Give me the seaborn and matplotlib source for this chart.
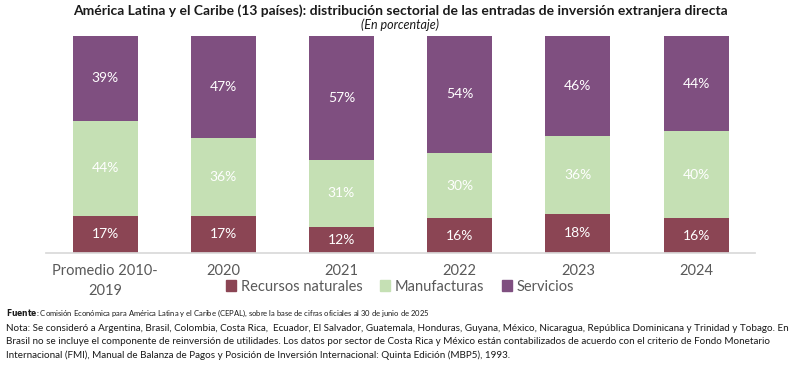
import seaborn as sns
import pandas as pd
import matplotlib.pyplot as plt
from matplotlib.patches import Patch

# Data
categories = ["Promedio 2010-\n2019", "2020", "2021", "2022", "2023", "2024"]
recursos = [17, 17, 12, 16, 18, 16]
manufacturas = [44, 36, 31, 30, 36, 40]
servicios = [39, 47, 57, 54, 46, 44]

colors = {"Recursos naturales": "#8B4554",
          "Manufacturas": "#C5E0B4",
          "Servicios": "#7F4F80"}

sns.set_theme(style="white")
plt.rcParams['font.family'] = ['Lato', 'DejaVu Sans']

df = pd.DataFrame({"cat": categories, "Recursos naturales": recursos,
                   "Manufacturas": manufacturas, "Servicios": servicios})

fig = plt.figure(figsize=(8, 3.66), dpi=100)
ax = fig.add_axes([0.0575, 0.309, 0.8865, 0.593])

bottom = [0] * len(categories)
for name in ["Recursos naturales", "Manufacturas", "Servicios"]:
    vals = df[name].tolist()
    sns.barplot(data=df, x="cat", y=name, color=colors[name], bottom=bottom,
                width=0.55, ax=ax, saturation=1, edgecolor="none")
    for i, v in enumerate(vals):
        ax.text(i, bottom[i] + v / 2, f"{v}%", ha="center", va="center",
                color="white", fontsize=10)
    bottom = [b + v for b, v in zip(bottom, vals)]

ax.set_ylim(0, 100)
ax.set_xlim(-0.5, len(categories) - 0.5)
ax.set_yticks([])
ax.set_xlabel("")
ax.set_ylabel("")
for s in ["top", "right", "left"]:
    ax.spines[s].set_visible(False)
ax.spines["bottom"].set_color("#D9D9D9")
ax.tick_params(axis="x", length=0, pad=8, labelsize=10.5, labelcolor="#595959")
for lbl in ax.get_xticklabels():
    lbl.set_linespacing(1.55)

handles = [Patch(color=c, label=k) for k, c in colors.items()]
fig.legend(handles=handles, loc="center", bbox_to_anchor=(0.5, 0.217), ncol=3,
           frameon=False, fontsize=10.5, handlelength=0.7, handleheight=0.7,
           handletextpad=0.3, columnspacing=1.2, labelcolor="#595959",
           borderpad=0.1)

fig.text(0.5, 0.972, "América Latina y el Caribe (13 países): distribución sectorial de las entradas de inversión extranjera directa",
         ha="center", va="center", fontsize=10, fontweight="bold", color="#1a1a1a")
fig.text(0.5, 0.932, "(En porcentaje)", ha="center", va="center",
         fontsize=9, fontstyle="italic", color="#1a1a1a")

fig.text(0.008, 0.145, r"$\bf{Fuente}$: Comisión Económica para América Latina y el Caribe (CEPAL), sobre la base de cifras oficiales al 30 de junio de 2025",
         ha="left", va="center", fontsize=5.5, color="#1a1a1a")
nota = ("Nota: Se consideró a Argentina, Brasil, Colombia, Costa Rica,  Ecuador, El Salvador, Guatemala, Honduras, Guyana, México, Nicaragua, República Dominicana y Trinidad y Tobago. En\n"
        "Brasil no se incluye el componente de reinversión de utilidades. Los datos por sector de Costa Rica y México están contabilizados de acuerdo con el criterio de Fondo Monetario\n"
        "Internacional (FMI), Manual de Balanza de Pagos y Posición de Inversión Internacional: Quinta Edición (MBP5), 1993.")
fig.text(0.008, 0.066, nota, ha="left", va="center", fontsize=7.1, color="#1a1a1a",
         linespacing=1.55)

fig.savefig("out.png", dpi=100)
